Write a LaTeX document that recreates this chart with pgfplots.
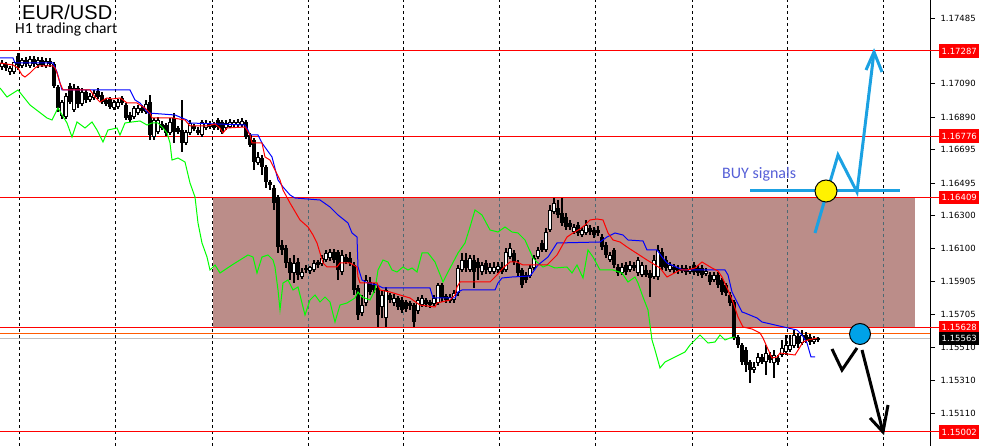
\documentclass[border=0pt]{standalone}
\usepackage{pgfplots}
\usepackage{pgfplotstable}
\pgfplotsset{compat=1.18}
\usepackage{fontspec}
\setmainfont{DejaVu Sans}
\newfontfamily\arialf{Liberation Sans}
\newfontfamily\calib{Carlito}

\definecolor{boxfill}{RGB}{187,141,137}
\definecolor{boxgrid}{RGB}{75,105,115}
\definecolor{sigblue}{RGB}{27,161,226}
\definecolor{dotblue}{RGB}{0,162,232}
\definecolor{buytxt}{RGB}{85,95,215}
\definecolor{mtorange}{RGB}{255,90,0}
\definecolor{lime}{RGB}{0,255,0}

% H1 candles: x (pixel column), open, high, low, close
\pgfplotstableread{
x o h l c
2 1.17191 1.17233 1.17173 1.17215
6 1.17209 1.17221 1.17167 1.17185
10 1.17161 1.17197 1.17143 1.17185
14 1.17161 1.17197 1.17149 1.17221
18 1.17257 1.17275 1.17173 1.17203
22 1.17197 1.17245 1.17185 1.17233
26 1.17233 1.17251 1.17191 1.17209
30 1.17197 1.17257 1.17185 1.17239
34 1.17239 1.17257 1.17191 1.17209
38 1.17203 1.17251 1.17185 1.17233
42 1.17233 1.17251 1.17191 1.17203
46 1.17197 1.17245 1.17185 1.17227
50 1.17227 1.17245 1.17191 1.17209
54 1.17209 1.17221 1.17065 1.17077
58 1.17071 1.17083 1.16921 1.16945
62 1.16897 1.16993 1.16879 1.16981
66 1.16891 1.17035 1.16879 1.17017
70 1.17077 1.17095 1.16969 1.16981
74 1.16933 1.17089 1.16921 1.17065
78 1.17065 1.17077 1.16945 1.16969
82 1.16969 1.17065 1.16957 1.17041
86 1.17041 1.17053 1.16975 1.16993
90 1.16993 1.17035 1.16981 1.17017
94 1.17005 1.17053 1.16993 1.17035
98 1.17047 1.17065 1.16999 1.17011
102 1.17023 1.17041 1.16969 1.16981
106 1.16993 1.17005 1.16957 1.16969
110 1.16999 1.17011 1.16939 1.16951
114 1.16945 1.16993 1.16933 1.16981
118 1.16951 1.16999 1.16939 1.16981
122 1.17005 1.17017 1.16963 1.16975
126 1.16963 1.16975 1.16873 1.16885
130 1.16903 1.16921 1.16861 1.16873
134 1.16891 1.16957 1.16879 1.16945
138 1.16915 1.16963 1.16903 1.16945
142 1.16945 1.16963 1.16915 1.16927
146 1.16921 1.16993 1.16909 1.16969
150 1.16981 1.17023 1.16753 1.16783
154 1.16771 1.16885 1.16753 1.16873
158 1.16801 1.16891 1.16789 1.16873
162 1.16849 1.16867 1.16813 1.16825
166 1.16843 1.16855 1.16777 1.16795
170 1.16795 1.16885 1.16783 1.16861
174 1.16885 1.16915 1.16735 1.16801
178 1.16825 1.16837 1.16789 1.16801
182 1.16813 1.16993 1.16681 1.16735
186 1.16735 1.16813 1.16723 1.16801
190 1.16795 1.16873 1.16783 1.16855
194 1.16837 1.16849 1.16807 1.16819
198 1.16813 1.16831 1.16783 1.16795
202 1.16783 1.16873 1.16771 1.16861
206 1.16825 1.16873 1.16813 1.16855
210 1.16831 1.16867 1.16819 1.16849
214 1.16849 1.16861 1.16813 1.16825
218 1.16873 1.16885 1.16813 1.16831
222 1.16861 1.16873 1.16789 1.16801
226 1.16825 1.16873 1.16813 1.16855
230 1.16831 1.16879 1.16825 1.16861
234 1.16843 1.16873 1.16831 1.16861
238 1.16843 1.16879 1.16831 1.16861
242 1.16843 1.16885 1.16831 1.16867
246 1.16861 1.16873 1.16759 1.16771
250 1.16783 1.16795 1.16711 1.16723
254 1.16753 1.16765 1.16573 1.16621
258 1.16615 1.16681 1.16603 1.16651
262 1.16645 1.16663 1.16543 1.16591
266 1.16591 1.16603 1.16465 1.16501
270 1.16501 1.16513 1.16453 1.16483
274 1.16465 1.16483 1.16333 1.16375
278 1.16411 1.16423 1.16075 1.16111
282 1.16123 1.16153 1.16063 1.16093
286 1.16105 1.16123 1.15985 1.16015
290 1.16021 1.16045 1.15913 1.15955
294 1.15955 1.16063 1.15895 1.16015
298 1.16021 1.16045 1.15913 1.15943
302 1.15931 1.15985 1.15919 1.15961
306 1.15985 1.16003 1.15955 1.15973
310 1.15967 1.15997 1.15949 1.15991
314 1.15973 1.16033 1.15961 1.16015
318 1.16021 1.16033 1.15985 1.16003
322 1.16009 1.16063 1.15997 1.16045
326 1.16033 1.16093 1.16021 1.16075
330 1.16045 1.16099 1.16027 1.16081
334 1.16081 1.16099 1.16015 1.16033
338 1.16081 1.16093 1.15913 1.15973
342 1.15961 1.16093 1.15943 1.16063
346 1.16051 1.16069 1.16009 1.16021
350 1.16045 1.16081 1.15997 1.16015
354 1.16003 1.16021 1.15823 1.15853
358 1.15865 1.15883 1.15673 1.15703
362 1.15715 1.15823 1.15697 1.15763
366 1.15775 1.15943 1.15757 1.15913
370 1.15901 1.15931 1.15823 1.15841
374 1.15883 1.15895 1.15835 1.15853
378 1.15865 1.15883 1.15631 1.15703
382 1.15751 1.15853 1.15685 1.15823
386 1.15685 1.15871 1.15631 1.15853
390 1.15823 1.15835 1.15775 1.15793
394 1.15775 1.15829 1.15757 1.15805
398 1.15805 1.15817 1.15733 1.15751
402 1.15793 1.15811 1.15715 1.15733
406 1.15781 1.15793 1.15721 1.15739
410 1.15775 1.15787 1.15733 1.15757
414 1.15763 1.15775 1.15631 1.15661
418 1.15727 1.15811 1.15709 1.15793
422 1.15763 1.15823 1.15751 1.15805
426 1.15793 1.15805 1.15751 1.15769
430 1.15781 1.15793 1.15745 1.15763
434 1.15769 1.15823 1.15757 1.15805
438 1.15775 1.15895 1.15763 1.15883
442 1.15883 1.15895 1.15781 1.15805
446 1.15817 1.15829 1.15775 1.15793
450 1.15787 1.15829 1.15775 1.15811
454 1.15793 1.15853 1.15775 1.15835
458 1.15835 1.16003 1.15817 1.15985
462 1.15973 1.16075 1.15961 1.16033
466 1.16033 1.16075 1.15961 1.15985
470 1.15973 1.16063 1.15961 1.16045
474 1.16033 1.16063 1.15865 1.15961
478 1.16021 1.16045 1.15913 1.15985
482 1.15961 1.16021 1.15943 1.16003
486 1.16015 1.16033 1.15949 1.15973
490 1.15961 1.16015 1.15949 1.15991
494 1.15961 1.16021 1.15949 1.15991
498 1.15973 1.16021 1.15955 1.15997
502 1.15991 1.16021 1.15949 1.15961
506 1.15973 1.16105 1.15961 1.16081
510 1.16051 1.16135 1.16039 1.16105
514 1.16075 1.16093 1.16003 1.16021
518 1.16015 1.16033 1.15937 1.15955
522 1.15973 1.15985 1.15865 1.15883
526 1.15943 1.15961 1.15895 1.15913
530 1.15937 1.16003 1.15925 1.15985
534 1.15985 1.16063 1.15973 1.16045
538 1.16051 1.16111 1.16039 1.16093
542 1.16135 1.16153 1.16081 1.16093
546 1.16093 1.16225 1.16081 1.16201
550 1.16213 1.16363 1.16201 1.16333
554 1.16321 1.16405 1.16309 1.16375
558 1.16345 1.16393 1.16285 1.16303
562 1.16315 1.16405 1.16237 1.16255
566 1.16291 1.16315 1.16213 1.16231
570 1.16255 1.16273 1.16213 1.16231
574 1.16201 1.16249 1.16189 1.16231
578 1.16243 1.16261 1.16177 1.16195
582 1.16183 1.16231 1.16171 1.16213
586 1.16195 1.16273 1.16183 1.16243
590 1.16225 1.16243 1.16183 1.16201
594 1.16213 1.16231 1.16165 1.16183
598 1.16213 1.16237 1.16177 1.16195
602 1.16171 1.16189 1.16093 1.16111
606 1.16123 1.16141 1.16045 1.16063
610 1.16033 1.16081 1.16021 1.16063
614 1.16093 1.16105 1.15985 1.16003
618 1.15991 1.16009 1.15937 1.15955
622 1.15955 1.16015 1.15943 1.15991
626 1.16003 1.16021 1.15943 1.15961
630 1.15973 1.16027 1.15961 1.16003
634 1.16003 1.16021 1.15967 1.15985
638 1.15955 1.16051 1.15937 1.16033
642 1.15943 1.16021 1.15931 1.16003
646 1.15973 1.16003 1.15931 1.15943
650 1.15955 1.15973 1.15811 1.15925
654 1.15931 1.16063 1.15919 1.16033
658 1.15931 1.16123 1.15913 1.16093
662 1.16081 1.16105 1.15973 1.15991
666 1.16033 1.16057 1.15967 1.15985
670 1.15973 1.16021 1.15961 1.16003
674 1.15991 1.16009 1.15955 1.15973
678 1.15985 1.16003 1.15949 1.15967
682 1.15967 1.16003 1.15955 1.15985
686 1.15985 1.16003 1.15943 1.15961
690 1.15961 1.15997 1.15949 1.15979
694 1.16003 1.16021 1.15943 1.15961
698 1.15985 1.16003 1.15937 1.15955
702 1.15985 1.16003 1.15925 1.15943
706 1.15949 1.15985 1.15937 1.15967
710 1.15943 1.15961 1.15883 1.15901
714 1.15913 1.15961 1.15901 1.15943
718 1.15943 1.15961 1.15865 1.15883
722 1.15913 1.15925 1.15823 1.15841
726 1.15883 1.15895 1.15817 1.15835
730 1.15823 1.15841 1.15757 1.15775
734 1.15781 1.15793 1.15553 1.15565
738 1.15571 1.15583 1.15505 1.15523
742 1.15523 1.15535 1.15403 1.15421
746 1.15493 1.15511 1.15361 1.15403
750 1.15421 1.15433 1.15295 1.15373
754 1.15373 1.15421 1.15355 1.15391
758 1.15415 1.15475 1.15397 1.15451
762 1.15451 1.15469 1.15409 1.15421
766 1.15421 1.15523 1.15343 1.15475
770 1.15463 1.15481 1.15415 1.15433
774 1.15415 1.15493 1.15325 1.15463
778 1.15445 1.15463 1.15403 1.15421
782 1.15463 1.15553 1.15451 1.15505
786 1.15481 1.15583 1.15463 1.15523
790 1.15493 1.15583 1.15481 1.15523
794 1.15517 1.15613 1.15505 1.15583
798 1.15577 1.15595 1.15505 1.15529
802 1.15535 1.15613 1.15523 1.15583
806 1.15583 1.15601 1.15535 1.15553
810 1.15571 1.15589 1.15523 1.15541
814 1.15541 1.15577 1.15529 1.15559
818 1.15565 1.15571 1.15541 1.15553
}\candles

\begin{document}
\begin{tikzpicture}
\begin{axis}[
  width=930pt, height=446pt, scale only axis,
  xmin=0, xmax=930, ymin=1.14917, ymax=1.17593,
  clip=false,
  axis x line=none,
  axis y line*=right,
  axis line style={-, black, line width=1pt},
  tick align=outside, major tick length=5pt,
  y tick style={black, line width=0.8pt},
  ytick={1.17485,1.17090,1.16890,1.16695,1.16495,1.16300,1.16100,1.15905,1.15705,1.15510,1.15310,1.15110},
  yticklabels={1.17485,1.17090,1.16890,1.16695,1.16495,1.16300,1.16100,1.15905,1.15705,1.15510,1.15310,1.15110},
  yticklabel style={font=\fontsize{8.5}{10}\selectfont, anchor=west, xshift=2pt},
  gridline/.style={black, line width=0.9pt, dash pattern=on 3pt off 3pt},
  wick/.style={black, line width=1.2pt, mark=none},
  body/.style={black, line width=3.4pt, line cap=butt, mark=none},
  hollow/.style={white, line width=1.2pt, line cap=butt, mark=none, shorten <=1.1pt, shorten >=1.1pt},
  hline/.style={line width=1pt, mark=none},
]
% day separators
\pgfplotsinvokeforeach{19,115,212,308,403,499,595,692,787,883}{
  \addplot[gridline] coordinates {(#1,1.14917) (#1,1.17593)};
}
% shaded range
\addplot[fill=boxfill, draw=none] coordinates {(213,1.16409) (915,1.16409) (915,1.15628) (213,1.15628)} -- cycle;
\pgfplotsinvokeforeach{308,403,499,595,692,787,883}{
  \addplot[boxgrid, line width=0.9pt, dash pattern=on 3pt off 3pt] coordinates {(#1,1.15628) (#1,1.16409)};
}
% horizontal levels
\addplot[hline, red] coordinates {(0,1.17287) (941,1.17287)};
\addplot[hline, red] coordinates {(0,1.16776) (941,1.16776)};
\addplot[hline, red] coordinates {(0,1.16409) (941,1.16409)};
\addplot[hline, red] coordinates {(0,1.15628) (941,1.15628)};
\addplot[hline, red] coordinates {(0,1.15002) (941,1.15002)};
\addplot[hline, mtorange] coordinates {(0,1.15589) (930,1.15589)};
\addplot[hline, black!25] coordinates {(0,1.15563) (930,1.15563)};

% candles
\pgfplotstablegetrowsof{\candles}
\pgfmathtruncatemacro{\lastrow}{\pgfplotsretval-1}
\pgfplotsforeachungrouped \r in {0,...,\lastrow}{%
  \pgfplotstablegetelem{\r}{x}\of\candles \let\cx\pgfplotsretval
  \pgfplotstablegetelem{\r}{o}\of\candles \let\co\pgfplotsretval
  \pgfplotstablegetelem{\r}{h}\of\candles \let\ch\pgfplotsretval
  \pgfplotstablegetelem{\r}{l}\of\candles \let\cl\pgfplotsretval
  \pgfplotstablegetelem{\r}{c}\of\candles \let\cc\pgfplotsretval
  \edef\candle{%
    \noexpand\addplot[wick] coordinates {(\cx,\cl) (\cx,\ch)};
    \noexpand\addplot[body] coordinates {(\cx,\co) (\cx,\cc)};
  }\candle
  \ifdim\cc pt>\co pt\relax
    \edef\candle{\noexpand\addplot[hollow] coordinates {(\cx,\co) (\cx,\cc)};}\candle
  \fi
}

% chikou (green)
\addplot[lime, line width=1pt, mark=none] coordinates {
(0,1.17065)(7,1.17011)(18,1.17053)(30,1.16963)(47,1.16885)(52,1.16873)(58,1.16945)(67,1.16855)
(72,1.16771)(77,1.16861)(85,1.16825)(92,1.16861)(97,1.16813)(103,1.16741)(108,1.16813)(117,1.16825)
(120,1.16783)(125,1.16855)(132,1.16861)(140,1.16867)(147,1.16843)(152,1.16855)(158,1.16855)
(163,1.16825)(167,1.16795)(170,1.16735)(172,1.16633)(178,1.16645)(185,1.16621)(190,1.16495)
(195,1.16411)(198,1.16255)(202,1.16135)(207,1.16051)(210,1.15973)(215,1.16003)(220,1.15955)
(232,1.16003)(240,1.16033)(248,1.16063)(253,1.16051)(257,1.15955)(262,1.16051)(268,1.16063)
(273,1.16033)(275,1.15991)(278,1.15853)(280,1.15733)(283,1.15895)(288,1.15913)(293,1.15853)
(298,1.15871)(305,1.15703)(310,1.15793)(315,1.15823)(320,1.15781)(325,1.15811)(330,1.15781)
(335,1.15661)(340,1.15763)(347,1.15775)(355,1.15805)(358,1.15841)(362,1.15811)(370,1.15793)
(375,1.15853)(378,1.15973)(383,1.16033)(388,1.16021)(392,1.15973)(397,1.15961)(403,1.15991)
(408,1.15973)(412,1.15985)(417,1.15961)(422,1.16075)(428,1.16075)(435,1.16021)(443,1.15901)
(448,1.15961)(458,1.16075)(465,1.16135)(470,1.16231)(475,1.16333)(482,1.16303)(490,1.16213)
(498,1.16201)(505,1.16231)(512,1.16201)(518,1.16195)(525,1.16153)(533,1.16045)(537,1.16021)
(543,1.15991)(548,1.16003)(555,1.15985)(567,1.15991)(572,1.15955)(577,1.16003)(583,1.15925)
(588,1.16093)(593,1.16051)(600,1.15973)(613,1.15973)(622,1.15955)(628,1.15901)(635,1.15931)
(638,1.15895)(643,1.15811)(648,1.15733)(652,1.15553)(655,1.15493)(660,1.15385)(665,1.15421)
(675,1.15451)(685,1.15481)(690,1.15523)(700,1.15583)(708,1.15535)(715,1.15541)(720,1.15583)
(725,1.15553)(730,1.15565)(735,1.15571)
};
% kijun (blue)
\addplot[blue, line width=1pt, mark=none] coordinates {
(0,1.17245)(13,1.17245)(15,1.17215)(53,1.17215)(57,1.17161)(60,1.17095)(62,1.17053)(130,1.17053)
(135,1.16993)(140,1.16975)(148,1.16915)(175,1.16903)(187,1.16873)(190,1.16855)(245,1.16843)
(248,1.16813)(250,1.16783)(258,1.16783)(262,1.16735)(267,1.16693)(272,1.16651)(278,1.16513)
(283,1.16471)(290,1.16423)(295,1.16405)(320,1.16393)(330,1.16351)(338,1.16303)(348,1.16255)
(352,1.16195)(357,1.16171)(358,1.15991)(362,1.15913)(368,1.15895)(377,1.15883)(383,1.15865)
(430,1.15865)(433,1.15805)(455,1.15805)(458,1.15841)(462,1.15853)(495,1.15853)(498,1.15895)
(502,1.15925)(512,1.15931)(530,1.15937)(533,1.15961)(538,1.16003)(548,1.16051)(557,1.16135)
(600,1.16141)(607,1.16171)(615,1.16195)(623,1.16183)(628,1.16153)(643,1.16147)(647,1.16093)
(657,1.16093)(662,1.16051)(667,1.16015)(683,1.15973)(725,1.15973)(728,1.15943)(732,1.15841)
(737,1.15781)(742,1.15721)(745,1.15715)(757,1.15685)(762,1.15661)(788,1.15625)(797,1.15613)
(802,1.15583)(807,1.15535)(811,1.15451)(815,1.15451)
};
% tenkan (red)
\addplot[red, line width=1pt, mark=none] coordinates {
(0,1.17215)(13,1.17203)(18,1.17185)(22,1.17143)(25,1.17131)(30,1.17155)(35,1.17185)(38,1.17197)
(53,1.17197)(55,1.17185)(57,1.17155)(60,1.17095)(63,1.17053)(90,1.17053)(95,1.17011)(100,1.16981)
(107,1.17005)(112,1.16999)(120,1.17005)(123,1.16993)(127,1.16975)(137,1.16975)(140,1.16963)
(145,1.16945)(150,1.16915)(152,1.16885)(173,1.16885)(185,1.16873)(190,1.16837)(207,1.16837)
(215,1.16849)(220,1.16825)(223,1.16795)(227,1.16825)(245,1.16831)(250,1.16783)(252,1.16735)
(262,1.16735)(265,1.16651)(270,1.16633)(275,1.16573)(280,1.16513)(283,1.16453)(290,1.16375)
(300,1.16273)(308,1.16231)(313,1.16183)(317,1.16135)(320,1.16075)(323,1.16015)(327,1.15991)
(337,1.15991)(340,1.16015)(350,1.16015)(357,1.15991)(358,1.15931)(360,1.15895)(377,1.15895)
(380,1.15853)(390,1.15841)(410,1.15805)(417,1.15775)(420,1.15763)(435,1.15751)(437,1.15775)
(450,1.15793)(455,1.15823)(457,1.15871)(460,1.15901)(490,1.15901)(497,1.15943)(503,1.15985)
(510,1.16021)(517,1.16021)(523,1.16003)(547,1.16003)(552,1.16033)(557,1.16063)(567,1.16171)
(573,1.16195)(580,1.16219)(585,1.16243)(590,1.16273)(597,1.16279)(603,1.16273)(608,1.16195)
(613,1.16153)(620,1.16141)(627,1.16111)(647,1.16033)(660,1.15985)(667,1.15931)(680,1.15973)
(687,1.15973)(695,1.15985)(702,1.16021)(712,1.15985)(718,1.15967)(722,1.15931)(728,1.15853)
(733,1.15781)(738,1.15691)(743,1.15631)(752,1.15619)(760,1.15595)(763,1.15565)(767,1.15511)
(772,1.15445)(777,1.15451)(780,1.15475)(795,1.15463)(800,1.15511)(803,1.15541)(808,1.15553)
(817,1.15565)
};

% hand-drawn signals
\addplot[sigblue, line width=3pt, mark=none] coordinates {(750,1.16447) (900,1.16447)};
\addplot[sigblue, line width=3pt, mark=none] coordinates {(815,1.16195) (838,1.16663) (857,1.16441) (874,1.17281)};
\addplot[sigblue, line width=3pt, mark=none] coordinates {(866,1.17173) (874,1.17281) (882,1.17161)};
\addplot[black, line width=3pt, mark=none] coordinates {(832,1.15499) (842,1.15373) (857,1.15505)};
\addplot[black, line width=3pt, mark=none] coordinates {(862,1.15493) (883,1.15001)};
\addplot[black, line width=3pt, mark=none] coordinates {(870,1.15085) (883,1.15001) (888,1.15163)};
\addplot[only marks, mark=*, mark size=11pt, mark options={fill=yellow, draw=black, line width=1pt}] coordinates {(826,1.16447)};
\addplot[only marks, mark=*, mark size=10.5pt, mark options={fill=dotblue, draw=black, line width=1pt}] coordinates {(860,1.15589)};

% texts
\node[anchor=base west, fill=white, inner sep=1.5pt, font=\arialf\fontsize{20}{24}\selectfont] at (axis cs:20.5,1.17477) {EUR/USD};
\node[anchor=base west, fill=white, inner sep=1.5pt, font=\calib\fontsize{15.5}{18}\selectfont] at (axis cs:13.5,1.17389) {H1 trading chart};
\node[anchor=base west, inner sep=0pt, text=buytxt, font=\calib\fontsize{16}{19}\selectfont] at (axis cs:722,1.16519) {BUY signals};

% price labels
\tikzset{plab/.style={anchor=west, text=white, font=\fontsize{8.5}{10}\selectfont, inner xsep=2.5pt, inner ysep=3.5pt, text height=6.5pt, text depth=0pt}}
\node[plab, fill=red] at (axis cs:939,1.17287) {1.17287};
\node[plab, fill=red] at (axis cs:939,1.16776) {1.16776};
\node[plab, fill=red] at (axis cs:939,1.16409) {1.16409};
\node[plab, fill=red] at (axis cs:939,1.15628) {1.15628};
\node[plab, fill=black] at (axis cs:939,1.15563) {1.15563};
\node[plab, fill=red] at (axis cs:939,1.15002) {1.15002};
\end{axis}
\pgfresetboundingbox
\path[use as bounding box] (0,0) rectangle (985pt,446pt);
\end{tikzpicture}
\end{document}
